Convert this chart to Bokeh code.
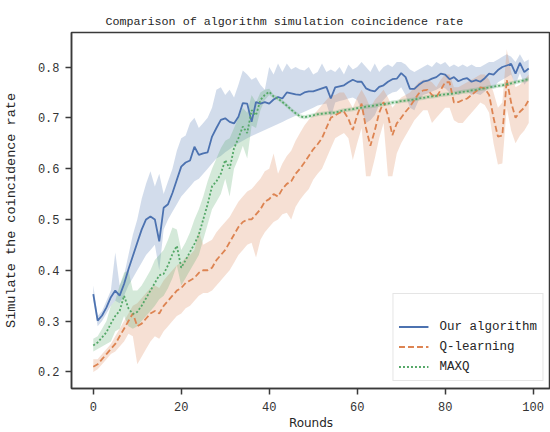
from bokeh.plotting import figure
from bokeh.models import Range1d, Legend, LegendItem, ColumnDataSource, FixedTicker, PrintfTickFormatter
from bokeh.embed import file_html
from bokeh.resources import INLINE

rounds = list(range(100))

ours = [0.353, 0.301, 0.311, 0.327, 0.347, 0.360, 0.350, 0.373, 0.402, 0.428,
        0.454, 0.480, 0.500, 0.506, 0.500, 0.457, 0.523, 0.530, 0.552, 0.578,
        0.604, 0.612, 0.616, 0.643, 0.627, 0.630, 0.632, 0.663, 0.680, 0.696,
        0.699, 0.692, 0.689, 0.702, 0.729, 0.728, 0.692, 0.731, 0.728, 0.731,
        0.728, 0.736, 0.741, 0.738, 0.750, 0.748, 0.746, 0.745, 0.750, 0.752,
        0.752, 0.755, 0.758, 0.761, 0.738, 0.760, 0.762, 0.764, 0.770, 0.775,
        0.771, 0.771, 0.758, 0.754, 0.752, 0.761, 0.764, 0.771, 0.776, 0.777,
        0.788, 0.780, 0.757, 0.757, 0.765, 0.771, 0.773, 0.777, 0.780, 0.787,
        0.785, 0.776, 0.780, 0.772, 0.776, 0.778, 0.771, 0.774, 0.771, 0.778,
        0.787, 0.785, 0.794, 0.800, 0.803, 0.806, 0.787, 0.808, 0.790, 0.797]
ours_lo = [0.340, 0.290, 0.300, 0.315, 0.330, 0.340, 0.335, 0.350, 0.370, 0.385,
           0.400, 0.415, 0.430, 0.440, 0.450, 0.400, 0.480, 0.500, 0.515, 0.530,
           0.545, 0.555, 0.565, 0.575, 0.580, 0.590, 0.600, 0.610, 0.620, 0.625,
           0.632, 0.638, 0.645, 0.650, 0.655, 0.660, 0.664, 0.668, 0.672, 0.676,
           0.680, 0.684, 0.688, 0.692, 0.696, 0.700, 0.704, 0.708, 0.712, 0.716,
           0.720, 0.724, 0.726, 0.728, 0.700, 0.730, 0.733, 0.735, 0.738, 0.740,
           0.735, 0.715, 0.690, 0.695, 0.705, 0.725, 0.735, 0.745, 0.750, 0.752,
           0.760, 0.745, 0.720, 0.715, 0.735, 0.745, 0.748, 0.752, 0.755, 0.760,
           0.758, 0.750, 0.752, 0.745, 0.750, 0.752, 0.745, 0.748, 0.745, 0.752,
           0.760, 0.758, 0.770, 0.775, 0.780, 0.785, 0.765, 0.788, 0.765, 0.775]
ours_hi = [0.370, 0.310, 0.320, 0.340, 0.360, 0.435, 0.370, 0.390, 0.430, 0.470,
           0.500, 0.540, 0.570, 0.595, 0.565, 0.590, 0.550, 0.575, 0.600, 0.635,
           0.660, 0.665, 0.690, 0.700, 0.680, 0.690, 0.700, 0.720, 0.755, 0.760,
           0.745, 0.755, 0.740, 0.765, 0.793, 0.785, 0.775, 0.780, 0.765, 0.755,
           0.800, 0.785, 0.807, 0.790, 0.807, 0.795, 0.800, 0.795, 0.793, 0.800,
           0.785, 0.790, 0.807, 0.790, 0.795, 0.790, 0.800, 0.785, 0.805, 0.795,
           0.800, 0.810, 0.800, 0.790, 0.807, 0.790, 0.800, 0.805, 0.800, 0.810,
           0.810, 0.805, 0.795, 0.790, 0.795, 0.800, 0.805, 0.800, 0.810, 0.805,
           0.810, 0.800, 0.805, 0.800, 0.805, 0.800, 0.805, 0.800, 0.800, 0.805,
           0.810, 0.810, 0.815, 0.820, 0.825, 0.820, 0.810, 0.825, 0.810, 0.815]

qlearn = [0.210, 0.215, 0.225, 0.235, 0.245, 0.255, 0.270, 0.285, 0.300, 0.315,
          0.290, 0.295, 0.305, 0.315, 0.320, 0.315, 0.330, 0.340, 0.350, 0.360,
          0.365, 0.375, 0.380, 0.385, 0.395, 0.400, 0.400, 0.405, 0.420, 0.430,
          0.440, 0.455, 0.470, 0.485, 0.495, 0.500, 0.500, 0.510, 0.520, 0.535,
          0.540, 0.550, 0.545, 0.560, 0.570, 0.575, 0.590, 0.600, 0.612, 0.625,
          0.638, 0.648, 0.660, 0.680, 0.700, 0.705, 0.710, 0.712, 0.698, 0.676,
          0.705, 0.728, 0.680, 0.645, 0.675, 0.710, 0.731, 0.705, 0.666, 0.689,
          0.700, 0.712, 0.722, 0.735, 0.748, 0.754, 0.755, 0.745, 0.741, 0.755,
          0.770, 0.770, 0.730, 0.731, 0.735, 0.738, 0.745, 0.752, 0.760, 0.758,
          0.745, 0.700, 0.663, 0.665, 0.775, 0.730, 0.700, 0.712, 0.720, 0.735]
qlearn_lo = [0.200, 0.205, 0.215, 0.225, 0.235, 0.240, 0.250, 0.260, 0.275, 0.270,
             0.215, 0.230, 0.245, 0.260, 0.270, 0.265, 0.280, 0.290, 0.300, 0.310,
             0.315, 0.325, 0.330, 0.340, 0.350, 0.355, 0.355, 0.360, 0.370, 0.380,
             0.390, 0.400, 0.415, 0.430, 0.440, 0.450, 0.454, 0.425, 0.460, 0.475,
             0.485, 0.495, 0.500, 0.510, 0.513, 0.500, 0.525, 0.539, 0.550, 0.560,
             0.578, 0.590, 0.600, 0.620, 0.640, 0.660, 0.665, 0.670, 0.660, 0.617,
             0.650, 0.680, 0.585, 0.585, 0.620, 0.660, 0.690, 0.585, 0.585, 0.630,
             0.650, 0.665, 0.680, 0.695, 0.705, 0.715, 0.715, 0.690, 0.700, 0.710,
             0.720, 0.720, 0.695, 0.690, 0.690, 0.700, 0.710, 0.720, 0.730, 0.725,
             0.710, 0.650, 0.608, 0.610, 0.720, 0.675, 0.650, 0.665, 0.675, 0.690]
qlearn_hi = [0.225, 0.225, 0.235, 0.245, 0.255, 0.270, 0.285, 0.300, 0.315, 0.330,
             0.335, 0.345, 0.355, 0.365, 0.370, 0.365, 0.380, 0.390, 0.400, 0.410,
             0.415, 0.425, 0.430, 0.440, 0.477, 0.450, 0.455, 0.460, 0.475, 0.485,
             0.495, 0.505, 0.520, 0.535, 0.545, 0.555, 0.560, 0.570, 0.580, 0.595,
             0.600, 0.630, 0.590, 0.610, 0.625, 0.635, 0.655, 0.670, 0.685, 0.696,
             0.705, 0.715, 0.725, 0.735, 0.745, 0.745, 0.750, 0.750, 0.735, 0.720,
             0.740, 0.755, 0.740, 0.720, 0.735, 0.745, 0.755, 0.740, 0.720, 0.730,
             0.740, 0.745, 0.750, 0.760, 0.770, 0.775, 0.775, 0.770, 0.760, 0.775,
             0.785, 0.785, 0.760, 0.760, 0.765, 0.770, 0.775, 0.780, 0.785, 0.785,
             0.775, 0.750, 0.720, 0.730, 0.835, 0.790, 0.760, 0.765, 0.775, 0.785]

maxq = [0.252, 0.258, 0.268, 0.278, 0.295, 0.310, 0.320, 0.350, 0.325, 0.314,
        0.318, 0.330, 0.345, 0.360, 0.375, 0.390, 0.393, 0.410, 0.432, 0.448,
        0.405, 0.420, 0.436, 0.452, 0.470, 0.500, 0.530, 0.565, 0.575, 0.590,
        0.617, 0.600, 0.640, 0.660, 0.683, 0.670, 0.715, 0.705, 0.735, 0.745,
        0.751, 0.742, 0.738, 0.731, 0.724, 0.716, 0.709, 0.703, 0.701, 0.703,
        0.705, 0.707, 0.708, 0.709, 0.710, 0.710, 0.713, 0.715, 0.716, 0.717,
        0.719, 0.720, 0.722, 0.723, 0.724, 0.726, 0.727, 0.728, 0.730, 0.731,
        0.733, 0.734, 0.735, 0.736, 0.738, 0.739, 0.741, 0.742, 0.743, 0.745,
        0.746, 0.747, 0.748, 0.750, 0.751, 0.752, 0.754, 0.755, 0.757, 0.758,
        0.760, 0.761, 0.763, 0.764, 0.766, 0.768, 0.770, 0.772, 0.774, 0.776]
maxq_lo = [0.240, 0.245, 0.250, 0.255, 0.260, 0.280, 0.285, 0.310, 0.290, 0.285,
           0.290, 0.300, 0.310, 0.320, 0.330, 0.343, 0.350, 0.365, 0.385, 0.410,
           0.370, 0.385, 0.400, 0.415, 0.430, 0.460, 0.490, 0.520, 0.535, 0.550,
           0.580, 0.545, 0.600, 0.620, 0.645, 0.620, 0.685, 0.680, 0.715, 0.735,
           0.745, 0.738, 0.734, 0.727, 0.720, 0.712, 0.705, 0.699, 0.697, 0.699,
           0.701, 0.703, 0.704, 0.705, 0.706, 0.706, 0.709, 0.711, 0.712, 0.713,
           0.715, 0.716, 0.718, 0.719, 0.720, 0.722, 0.723, 0.724, 0.726, 0.727,
           0.729, 0.730, 0.731, 0.732, 0.734, 0.735, 0.737, 0.738, 0.739, 0.741,
           0.742, 0.743, 0.744, 0.746, 0.747, 0.748, 0.750, 0.751, 0.753, 0.754,
           0.756, 0.757, 0.759, 0.760, 0.762, 0.764, 0.766, 0.768, 0.770, 0.772]
maxq_hi = [0.265, 0.270, 0.285, 0.300, 0.330, 0.340, 0.370, 0.395, 0.400, 0.360,
           0.360, 0.370, 0.385, 0.400, 0.420, 0.430, 0.440, 0.460, 0.484, 0.480,
           0.440, 0.455, 0.475, 0.500, 0.520, 0.545, 0.575, 0.600, 0.620, 0.640,
           0.655, 0.660, 0.680, 0.700, 0.720, 0.710, 0.745, 0.730, 0.750, 0.755,
           0.757, 0.746, 0.742, 0.735, 0.728, 0.720, 0.713, 0.707, 0.705, 0.707,
           0.709, 0.711, 0.712, 0.713, 0.714, 0.714, 0.717, 0.719, 0.720, 0.721,
           0.723, 0.724, 0.726, 0.727, 0.728, 0.730, 0.731, 0.732, 0.734, 0.735,
           0.737, 0.738, 0.739, 0.740, 0.742, 0.743, 0.745, 0.746, 0.747, 0.749,
           0.750, 0.751, 0.752, 0.754, 0.755, 0.756, 0.758, 0.759, 0.761, 0.762,
           0.764, 0.765, 0.767, 0.768, 0.770, 0.772, 0.774, 0.776, 0.778, 0.780]

x_ticks = [0, 20, 40, 60, 80, 100]
y_ticks = [0.2, 0.3, 0.4, 0.5, 0.6, 0.7, 0.8]

BLUE, ORANGE, GREEN = "#4C72B0", "#DD8452", "#55A868"
MONO = "Liberation Mono"
SPINE = "#3a3a3a"

p = figure(width=550, height=432, output_backend="svg", toolbar_location=None,
           x_range=Range1d(-4.95, 103.95), y_range=Range1d(0.1673, 0.8679),
           min_border_left=71, min_border_right=0, min_border_top=32, min_border_bottom=42)

p.title.text = "Comparison of algorithm simulation coincidence rate"
p.title.text_font = MONO
p.title.text_font_size = "11.7px"
p.title.text_font_style = "normal"
p.title.text_color = "#262626"
p.title.align = "left"
p.title.offset = 34
p.title.standoff = 7

src = ColumnDataSource(dict(x=rounds, ours=ours, ours_lo=ours_lo, ours_hi=ours_hi,
                            q=qlearn, q_lo=qlearn_lo, q_hi=qlearn_hi,
                            m=maxq, m_lo=maxq_lo, m_hi=maxq_hi))

p.varea(x="x", y1="ours_lo", y2="ours_hi", source=src, fill_color=BLUE, fill_alpha=0.25)
p.varea(x="x", y1="q_lo", y2="q_hi", source=src, fill_color=ORANGE, fill_alpha=0.25)
p.varea(x="x", y1="m_lo", y2="m_hi", source=src, fill_color=GREEN, fill_alpha=0.25)

r1 = p.line(x="x", y="ours", source=src, line_color=BLUE, line_width=1.8)
r2 = p.line(x="x", y="q", source=src, line_color=ORANGE, line_width=1.8, line_dash="6 3")
r3 = p.line(x="x", y="m", source=src, line_color=GREEN, line_width=1.8, line_dash="2 2")

legend = Legend(items=[LegendItem(label="Our algorithm", renderers=[r1]),
                       LegendItem(label="Q-learning", renderers=[r2]),
                       LegendItem(label="MAXQ", renderers=[r3])],
                location="bottom_right", title=" ")
legend.margin = 7
legend.padding = 5
legend.spacing = 3
legend.label_height = 17
legend.glyph_height = 17
legend.glyph_width = 30
legend.label_standoff = 11
legend.label_text_font = MONO
legend.label_text_font_size = "12.5px"
legend.label_text_color = "#262626"
legend.title_text_font_size = "12px"
legend.title_standoff = 5
legend.border_line_color = "#cccccc"
legend.border_line_width = 1
legend.background_fill_alpha = 0.85
p.add_layout(legend)

p.xgrid.visible = False
p.ygrid.visible = False
p.outline_line_color = SPINE
p.outline_line_width = 1.5

for ax in (p.xaxis[0], p.yaxis[0]):
    ax.axis_line_color = SPINE
    ax.axis_line_width = 1.5
    ax.major_tick_line_color = SPINE
    ax.major_tick_line_width = 1.5
    ax.major_tick_out = 6
    ax.major_tick_in = 0
    ax.minor_tick_line_color = None
    ax.major_label_text_font = MONO
    ax.major_label_text_font_size = "12px"
    ax.major_label_text_color = "#333333"
    ax.axis_label_text_font_style = "normal"
    ax.axis_label_text_color = "#262626"

p.xaxis.ticker = FixedTicker(ticks=x_ticks)
p.yaxis.ticker = FixedTicker(ticks=y_ticks)
p.yaxis.formatter = PrintfTickFormatter(format="%.1f")
p.yaxis.major_label_standoff = 6
p.xaxis.major_label_standoff = 7

p.xaxis.axis_label = "Rounds"
p.xaxis.axis_label_text_font = "DejaVu Sans"
p.xaxis.axis_label_text_font_size = "12px"
p.xaxis.axis_label_standoff = 2

p.yaxis.axis_label = "Simulate the coincidence rate"
p.yaxis.axis_label_text_font = MONO
p.yaxis.axis_label_text_font_size = "13.5px"
p.yaxis.axis_label_standoff = 16

p.background_fill_color = "white"
p.border_fill_color = "white"

open("out.html", "w").write(file_html(p, INLINE))
